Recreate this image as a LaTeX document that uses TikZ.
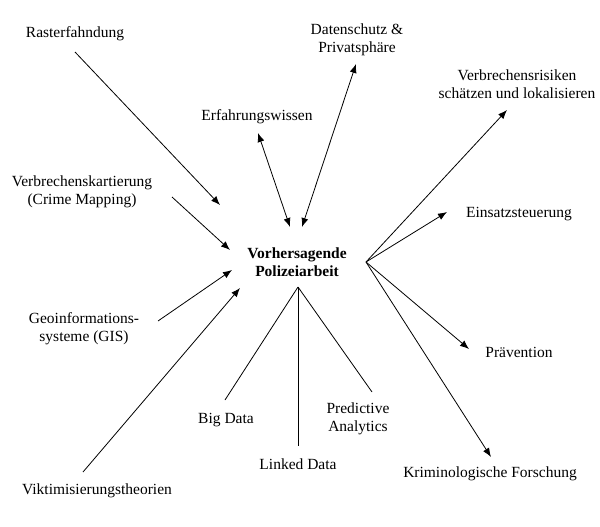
\documentclass[tikz,border=0pt]{standalone}
\usepackage{fontspec}
\setmainfont{Liberation Serif}
\usetikzlibrary{arrows.meta}
\begin{document}
\begin{tikzpicture}[x=1pt,y=-1pt,
  lbl/.style={align=center,font=\fontsize{15.5}{18}\selectfont,inner sep=1pt},
  ln/.style={line width=0.8pt},
  arr/.style={ln,-{Latex[length=9pt,width=7pt]}},
  darr/.style={ln,{Latex[length=9pt,width=7pt]}-{Latex[length=9pt,width=7pt]}}]
\useasboundingbox (0,0) rectangle (600,527);
\node[lbl,font=\fontsize{15.5}{18}\selectfont\bfseries] (c) at (297,262) {Vorhersagende\\Polizeiarbeit};
\node[lbl] (r) at (75,34) {Rasterfahndung};
\node[lbl] (d) at (357,40) {Datenschutz \&\\Privatsphäre};
\node[lbl] (vr) at (517,84) {Verbrechensrisiken\\schätzen und lokalisieren};
\node[lbl] (e) at (257,117) {Erfahrungswissen};
\node[lbl] (vk) at (82,192) {Verbrechenskartierung\\(Crime Mapping)};
\node[lbl] (es) at (519,214) {Einsatzsteuerung};
\node[lbl] (g) at (84,329) {Geoinformations-\\systeme (GIS)};
\node[lbl] (p) at (519,352) {Prävention};
\node[lbl] (bd) at (226,420) {Big Data};
\node[lbl] (ld) at (298,464) {Linked Data};
\node[lbl] (pa) at (358,419) {Predictive\\Analytics};
\node[lbl] (kf) at (490,474) {Kriminologische Forschung};
\node[lbl] (vt) at (97,491) {Viktimisierungstheorien};
\coordinate (cr) at (366,262);
\coordinate (cb) at (298,287);
\draw[arr] (75,52) -- (220,205);
\draw[arr] (172,197) -- (230,250);
\draw[arr] (158,321) -- (232,270);
\draw[arr] (83,472) -- (240,288);
\draw[darr] (258,133) -- (290,227);
\draw[darr] (302,227) -- (356,64);
\draw[arr] (cr) -- (507,110);
\draw[arr] (cr) -- (447,212);
\draw[arr] (cr) -- (469,349);
\draw[arr] (cr) -- (491,457);
\draw[ln] (cb) -- (225,400);
\draw[ln] (cb) -- (298,446);
\draw[ln] (cb) -- (372,392);
\end{tikzpicture}
\end{document}
